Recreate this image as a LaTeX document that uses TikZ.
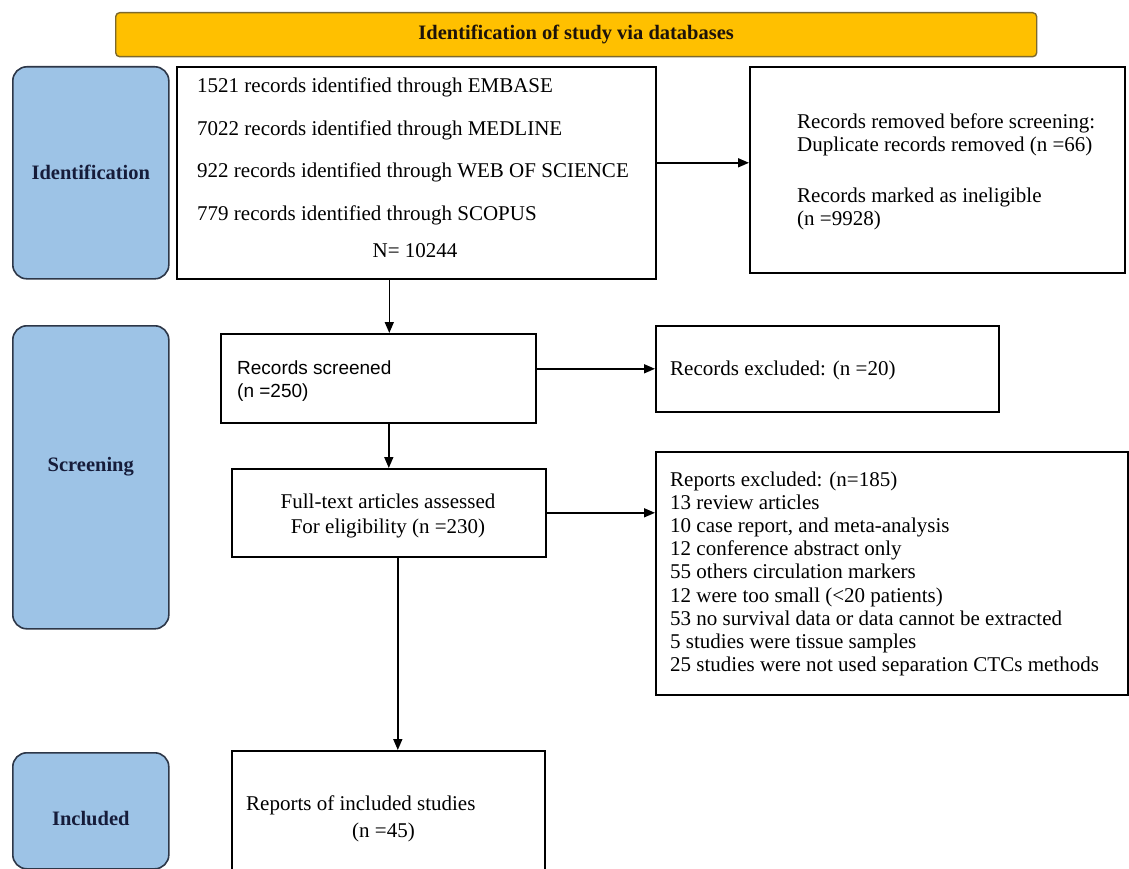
\documentclass[tikz,border=0pt]{standalone}
\usepackage{fontspec}
\setmainfont{Liberation Serif}
\newfontfamily\arialf{Liberation Sans}
\usetikzlibrary{arrows.meta}
\definecolor{sideblue}{RGB}{157,195,230}
\definecolor{sideedge}{RGB}{45,55,72}
\definecolor{bannerfill}{RGB}{255,192,0}
\definecolor{banneredge}{RGB}{125,105,45}
\definecolor{sidetext}{RGB}{22,28,58}
\begin{document}
\begin{tikzpicture}[x=1pt,y=-1pt,
  box/.style={draw=black, line width=1.6pt, fill=white, anchor=north west, inner sep=0pt},
  side/.style={draw=sideedge, line width=1.6pt, fill=sideblue, rounded corners=14pt, anchor=north west, inner sep=0pt},
  sidelabel/.style={font=\fontsize{20.5}{24}\selectfont\bfseries, text=sidetext, inner sep=0pt},
  ln/.style={font=\fontsize{21}{24}\selectfont, inner sep=0pt, anchor=base west},
  lnsans/.style={font=\arialf\fontsize{19}{22}\selectfont, inner sep=0pt, anchor=base west},
  arr/.style={line width=1.6pt, -{Triangle[length=11pt,width=9pt]}}]
\useasboundingbox (0,0) rectangle (1129,869);
\fill[white] (0,0) rectangle (1129,869);
\clip (0,0) rectangle (1129,869);

% banner
\node[draw=banneredge, fill=bannerfill, rounded corners=4pt, line width=1.4pt,
      minimum width=921pt, minimum height=44pt, anchor=north west, inner sep=0pt,
      font=\fontsize{20.5}{24}\selectfont\bfseries, text=black!85!brown] (banner) at (115,12)
      {Identification of study via databases};

% side boxes
\node[side, minimum width=156pt, minimum height=212pt] (sid) at (12,66) {};
\node[sidelabel] (sidt) at (sid.center) {Identification};
\node[side, minimum width=156pt, minimum height=303pt] (sscr) at (12,325) {};
\node[sidelabel] (sscrt) at ([yshift=11pt]sscr.center) {Screening};
\node[side, minimum width=156pt, minimum height=116pt] (sinc) at (12,752) {};
\node[sidelabel] (sinct) at ([yshift=-8pt]sinc.center) {Included};

% main boxes
\node[box, minimum width=479pt, minimum height=212pt] (b1) at (176,66) {};
\node[box, minimum width=375pt, minimum height=206pt] (rem) at (749,66) {};
\node[box, minimum width=315pt, minimum height=89pt] (scr) at (220,333) {};
\node[box, minimum width=343pt, minimum height=86pt] (exc) at (655,325) {};
\node[box, minimum width=314pt, minimum height=88pt] (full) at (231,468) {};
\node[box, minimum width=472pt, minimum height=243pt] (rep) at (655,451) {};
\node[box, minimum width=313pt, minimum height=140pt] (inc) at (231,750) {};

% texts of identification box
\foreach \t [count=\i from 0] in {1521 records identified through EMBASE,
  7022 records identified through MEDLINE,
  922 records identified through WEB OF SCIENCE,
  779 records identified through SCOPUS}
  \node[ln] (b1l\i) at (197,93+42.5*\i) {\t};
\node[ln, anchor=base] (b1n) at (415,257) {N= 10244};

% removed box
\node[ln] (rem1) at (797,129) {Records removed before screening:};
\node[ln] (rem2) at (797,152) {Duplicate records removed (n =66)};
\node[ln] (rem3) at (797,202) {Records marked as ineligible};
\node[ln] (rem4) at (797,225) {(n =9928)};

% screened
\node[lnsans] (scr1) at (237,374) {Records screened};
\node[lnsans] (scr2) at (237,397) {(n =250)};
\node[ln] (exc1) at (670,375) {Records excluded: (n =20)};

% full text
\node[ln, anchor=base] (full1) at (388,508) {Full-text articles assessed};
\node[ln, anchor=base] (full2) at (388,533) {For eligibility (n =230)};

% reports excluded
\foreach \t [count=\i from 0] in {Reports excluded: (n=185),
  13 review articles,
  {10 case report, and meta-analysis},
  12 conference abstract only,
  55 others circulation markers,
  12 were too small (<20 patients),
  53 no survival data or data cannot be extracted,
  5 studies were tissue samples,
  25 studies were not used separation CTCs methods}
  \node[ln] (repl\i) at (670,486+23.2*\i) {\t};

% included
\node[ln] (inc1) at (246,810) {Reports of included studies};
\node[ln] (inc2) at (352,837) {(n =45)};

% connectors
\draw[arr] ([yshift=10pt]b1.east) -- ([yshift=10pt]b1.east -| rem.west);
\draw[arr] ([xshift=-27pt]b1.south) -- ([xshift=-27pt]b1.south |- scr.north);
\draw[arr] (scr.east |- exc.west) -- (exc.west);
\draw[arr] (scr.south -| full.north) -- (full.north);
\draw[arr] (full.east) -- (full.east -| rep.west);
\draw[arr] ([xshift=9pt]full.south) -- ([xshift=9pt]full.south |- inc.north);
\end{tikzpicture}
\end{document}
